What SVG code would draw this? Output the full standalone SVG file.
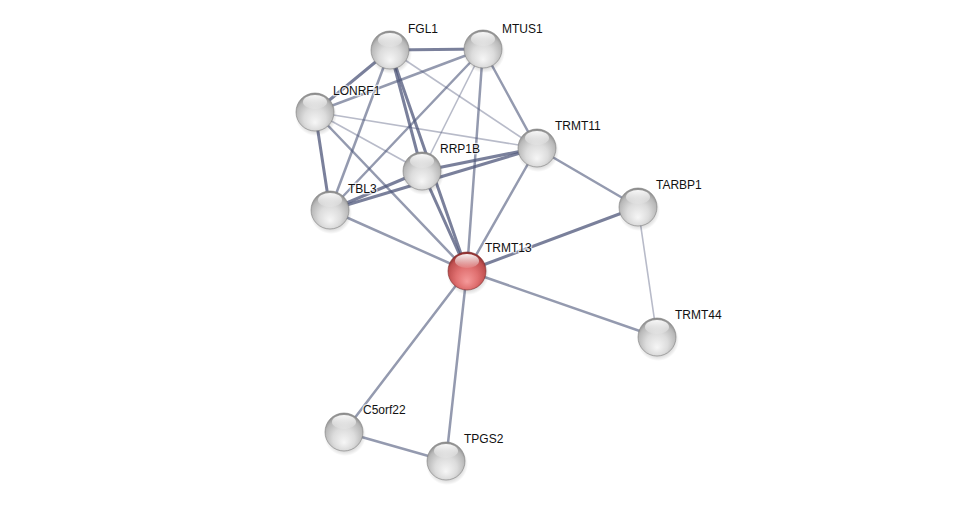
<svg xmlns="http://www.w3.org/2000/svg" width="976" height="506" viewBox="0 0 976 506">
<defs>
<radialGradient id="gGray" cx="50%" cy="60%" r="58%" fx="50%" fy="78%">
<stop offset="0" stop-color="#f6f6f6"/>
<stop offset="0.5" stop-color="#dcdcdc"/>
<stop offset="0.85" stop-color="#b8b8b8"/>
<stop offset="1" stop-color="#8e8e8e"/>
</radialGradient>
<radialGradient id="gRed" cx="50%" cy="60%" r="58%" fx="50%" fy="78%">
<stop offset="0" stop-color="#f59a9a"/>
<stop offset="0.5" stop-color="#e07070"/>
<stop offset="0.85" stop-color="#c05050"/>
<stop offset="1" stop-color="#8e3030"/>
</radialGradient>
<linearGradient id="gGloss" x1="0" y1="0" x2="0" y2="1">
<stop offset="0" stop-color="#ffffff" stop-opacity="0.95"/>
<stop offset="1" stop-color="#ffffff" stop-opacity="0.1"/>
</linearGradient>
<radialGradient id="gShadow" cx="50%" cy="50%" r="50%">
<stop offset="0.6" stop-color="#000" stop-opacity="0.25"/>
<stop offset="1" stop-color="#000" stop-opacity="0"/>
</radialGradient>
<g id="sphere">
<circle cx="1" cy="3" r="21" fill="url(#gShadow)"/>
<circle r="19" fill="url(#gGray)" stroke="#7e7e7e" stroke-width="0.6"/>
<ellipse cx="0" cy="-10" rx="12" ry="7" fill="url(#gGloss)"/>
</g>
<g id="sphereRed">
<circle cx="1" cy="3" r="21" fill="url(#gShadow)"/>
<circle r="19" fill="url(#gRed)" stroke="#7e2828" stroke-width="0.6"/>
<ellipse cx="0" cy="-10" rx="12" ry="7" fill="url(#gGloss)"/>
</g>
</defs>
<style>
.e{fill:none;stroke:#4d5679;stroke-linecap:round}
.s{stroke-width:3;stroke-opacity:0.75}
.m{stroke-width:2.5;stroke-opacity:0.6}
.l{stroke-width:1.6;stroke-opacity:0.4}
.t{font-family:"Liberation Sans",Arial,sans-serif;font-size:12px;fill:#111;paint-order:stroke;stroke:#fff;stroke-width:2.5;stroke-opacity:0.7}
</style>
<rect width="976" height="506" fill="#ffffff"/>
<g id="edges">
<line class="e s" x1="390" y1="50" x2="483" y2="49"/>
<line class="e s" x1="390" y1="50" x2="315" y2="112"/>
<line class="e m" x1="390" y1="50" x2="330" y2="210"/>
<line class="e s" x1="390" y1="50" x2="422" y2="171"/>
<line class="e s" x1="390" y1="50" x2="467" y2="271"/>
<line class="e l" x1="390" y1="50" x2="537" y2="148"/>
<line class="e m" x1="483" y1="49" x2="315" y2="112"/>
<line class="e m" x1="483" y1="49" x2="330" y2="210"/>
<line class="e l" x1="483" y1="49" x2="422" y2="171"/>
<line class="e m" x1="483" y1="49" x2="467" y2="271"/>
<line class="e m" x1="483" y1="49" x2="537" y2="148"/>
<line class="e l" x1="315" y1="112" x2="537" y2="148"/>
<line class="e l" x1="315" y1="112" x2="422" y2="171"/>
<line class="e s" x1="315" y1="112" x2="330" y2="210"/>
<line class="e m" x1="315" y1="112" x2="467" y2="271"/>
<line class="e s" x1="422" y1="171" x2="537" y2="148"/>
<line class="e s" x1="330" y1="210" x2="537" y2="148"/>
<line class="e s" x1="330" y1="210" x2="422" y2="171"/>
<line class="e s" x1="422" y1="171" x2="467" y2="271"/>
<line class="e m" x1="330" y1="210" x2="467" y2="271"/>
<line class="e m" x1="537" y1="148" x2="467" y2="271"/>
<line class="e m" x1="537" y1="148" x2="638" y2="207"/>
<line class="e s" x1="638" y1="207" x2="467" y2="271"/>
<line class="e l" x1="638" y1="207" x2="657" y2="337"/>
<line class="e m" x1="467" y1="271" x2="657" y2="337"/>
<line class="e m" x1="467" y1="271" x2="344" y2="432"/>
<line class="e m" x1="467" y1="271" x2="446" y2="461"/>
<line class="e m" x1="344" y1="432" x2="446" y2="461"/>
</g>
<g id="FGL1"><use href="#sphere" x="390" y="50"/><text class="t" x="408" y="33">FGL1</text></g>
<g id="MTUS1"><use href="#sphere" x="483" y="49"/><text class="t" x="502" y="33">MTUS1</text></g>
<g id="LONRF1"><use href="#sphere" x="315" y="112"/><text class="t" x="333" y="95">LONRF1</text></g>
<g id="TRMT11"><use href="#sphere" x="537" y="148"/><text class="t" x="555" y="130">TRMT11</text></g>
<g id="RRP1B"><use href="#sphere" x="422" y="171"/><text class="t" x="440" y="153">RRP1B</text></g>
<g id="TBL3"><use href="#sphere" x="330" y="210"/><text class="t" x="348" y="193">TBL3</text></g>
<g id="TARBP1"><use href="#sphere" x="638" y="207"/><text class="t" x="656" y="189">TARBP1</text></g>
<g id="TRMT13"><use href="#sphereRed" x="467" y="271"/><text class="t" x="485" y="252">TRMT13</text></g>
<g id="TRMT44"><use href="#sphere" x="657" y="337"/><text class="t" x="675" y="319">TRMT44</text></g>
<g id="C5orf22"><use href="#sphere" x="344" y="432"/><text class="t" x="363" y="414">C5orf22</text></g>
<g id="TPGS2"><use href="#sphere" x="446" y="461"/><text class="t" x="464" y="443">TPGS2</text></g>
</svg>
